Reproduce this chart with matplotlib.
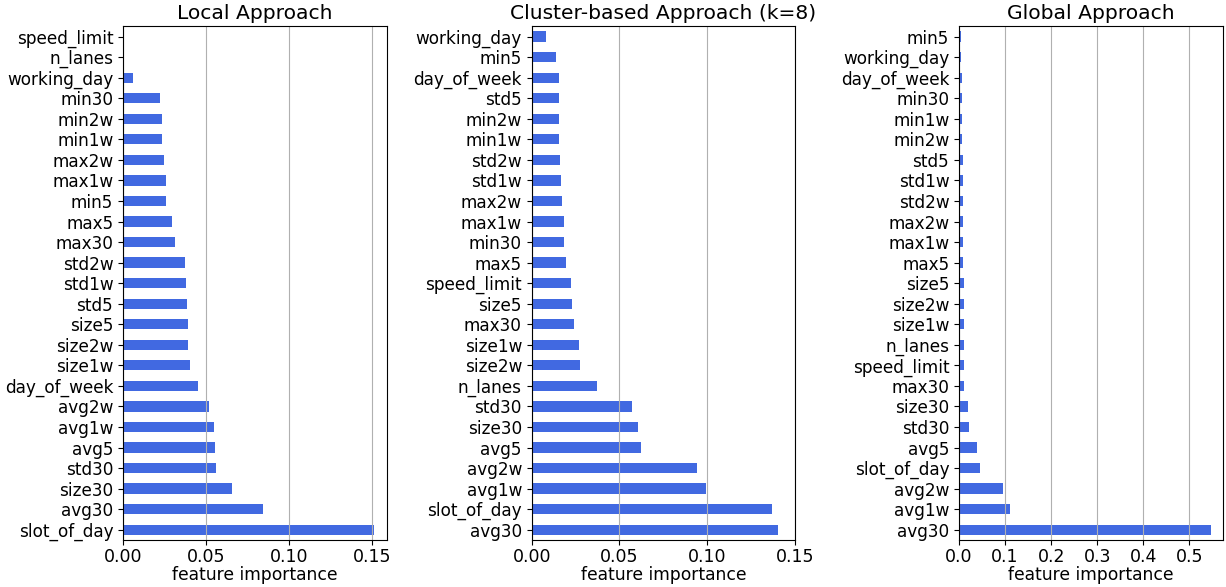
import matplotlib
matplotlib.use("Agg")
import matplotlib.pyplot as plt
from matplotlib.ticker import MultipleLocator

# values listed from the bottom bar up (sorted by importance)
local_features = ["slot_of_day", "avg30", "size30", "std30", "avg5", "avg1w", "avg2w",
                  "day_of_week", "size1w", "size2w", "size5", "std5", "std1w", "std2w",
                  "max30", "max5", "min5", "max1w", "max2w", "min1w", "min2w", "min30",
                  "working_day", "n_lanes", "speed_limit"]
local_values = [0.1514, 0.0841, 0.0655, 0.0559, 0.0553, 0.0547, 0.0517,
                0.0451, 0.0403, 0.0391, 0.0390, 0.0385, 0.0379, 0.0373,
                0.0313, 0.0294, 0.0258, 0.0257, 0.0246, 0.0234, 0.0233, 0.0222,
                0.0060, 0.0002, 0.0001]

cluster_features = ["avg30", "slot_of_day", "avg1w", "avg2w", "avg5", "size30", "std30",
                    "n_lanes", "size2w", "size1w", "max30", "size5", "speed_limit",
                    "max5", "min30", "max1w", "max2w", "std1w", "std2w", "min1w",
                    "min2w", "std5", "day_of_week", "min5", "working_day"]
cluster_values = [0.1405, 0.1368, 0.0992, 0.0941, 0.0621, 0.0604, 0.0570,
                  0.0371, 0.0275, 0.0270, 0.0241, 0.0230, 0.0224,
                  0.0196, 0.0184, 0.0183, 0.0173, 0.0167, 0.0162, 0.0157,
                  0.0156, 0.0156, 0.0155, 0.0139, 0.0082]

global_features = ["avg30", "avg1w", "avg2w", "slot_of_day", "avg5", "std30", "size30",
                   "max30", "speed_limit", "n_lanes", "size1w", "size2w", "size5",
                   "max5", "max1w", "max2w", "std2w", "std1w", "std5", "min2w",
                   "min1w", "min30", "day_of_week", "working_day", "min5"]
global_values = [0.5464, 0.1116, 0.0965, 0.0454, 0.0389, 0.0216, 0.0194,
                 0.0110, 0.0110, 0.0110, 0.0105, 0.0105, 0.0100,
                 0.0088, 0.0087, 0.0087, 0.0086, 0.0086, 0.0086, 0.0066,
                 0.0065, 0.0065, 0.0064, 0.0042, 0.0040]

fig = plt.figure(figsize=(12.26, 5.87), dpi=100)
W, H = 1226, 587
bottom = (H - 540) / H
height = (540 - 26.3) / H
lefts = [123, 531.7, 959]
widths = [263.7, 263.3, 264.3]

panels = [
    ("Local Approach", local_features, local_values, None, 0.05),
    ("Cluster-based Approach (k=8)", cluster_features, cluster_values, 0.15, 0.05),
    ("Global Approach", global_features, global_values, None, 0.1),
]

for (title, feats, vals, xmax, step), l, w in zip(panels, lefts, widths):
    ax = fig.add_axes([l / W, bottom, w / W, height])
    ax.barh(range(len(feats)), vals, height=0.5, color="royalblue")
    ax.set_yticks(range(len(feats)))
    ax.set_yticklabels(feats, fontsize=12.2)
    ax.set_ylim(-0.5, len(feats) - 0.5)
    if xmax is None:
        xmax = max(vals) * 1.05
    ax.set_xlim(0, xmax)
    ax.xaxis.set_major_locator(MultipleLocator(step))
    ax.tick_params(axis="x", labelsize=12.5, pad=2)
    ax.grid(axis="x", color="#b0b0b0")
    ax.set_title(title, fontsize=14.6, pad=5)
    ax.set_xlabel("feature importance", fontsize=12.3, labelpad=0)

fig.savefig("out.png", dpi=100)
